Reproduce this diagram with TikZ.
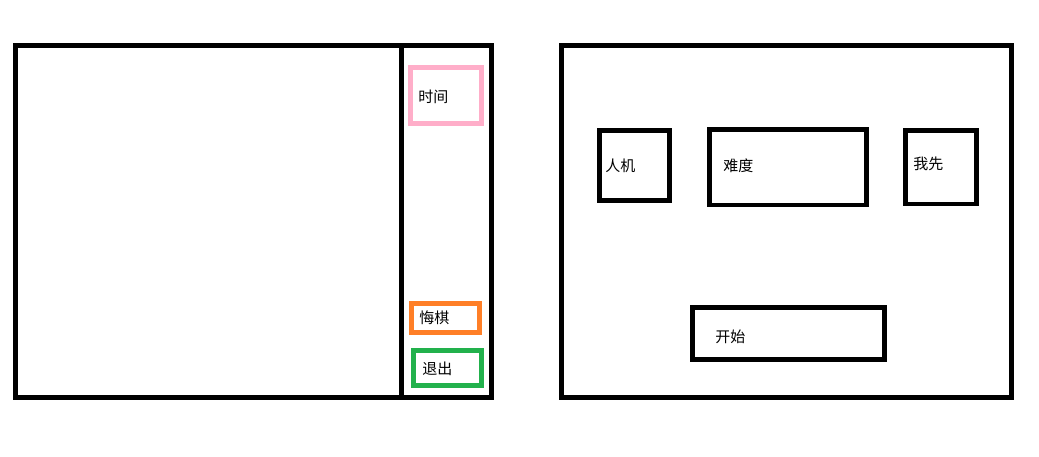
\documentclass[tikz,border=0pt]{standalone}
\usepackage{fontspec}
\usepackage{xcolor}
\newfontfamily\cjk{Noto Sans CJK SC}
\definecolor{paintpink}{RGB}{255,174,201}
\definecolor{paintorange}{RGB}{255,127,39}
\definecolor{paintgreen}{RGB}{34,177,76}
\tikzset{label/.style={anchor=west, inner sep=0pt, font=\cjk\fontsize{15}{17}\selectfont}}

\begin{document}
\begin{tikzpicture}[x=1pt,y=-1pt,line width=4.5pt]
    \useasboundingbox (0,0) rectangle (1039,457);

    % game window
    \draw (15.5,45.5) rectangle (491.5,397.5);
    \draw (401.5,45.5) -- (401.5,397.5);

    \draw[paintpink] (410.5,67.5) rectangle (481.5,123.5);
    \node[label] (time) at (416,97) {时间};

    \draw[paintorange] (411.5,303.5) rectangle (479.5,332.5);
    \node[label] (regret) at (417,318) {悔棋};

    \draw[paintgreen] (413.5,350.5) rectangle (481.5,385.5);
    \node[label] (quit) at (420,369) {退出};

    % start menu
    \draw (561.5,45.5) rectangle (1011.5,397.5);

    \draw (599.5,130.5) rectangle (669.5,200.5);
    \node[label] (pvc) at (603,166) {人机};

    \draw (709.5,129.5) rectangle (866.5,205);
    \node[label] (level) at (721,166) {难度};

    \draw (905.5,130.5) rectangle (976.5,204);
    \node[label] (first) at (911,164) {我先};

    \draw (692.5,307.5) rectangle (884.5,359.5);
    \node[label] (start) at (713,337) {开始};
\end{tikzpicture}
\end{document}
